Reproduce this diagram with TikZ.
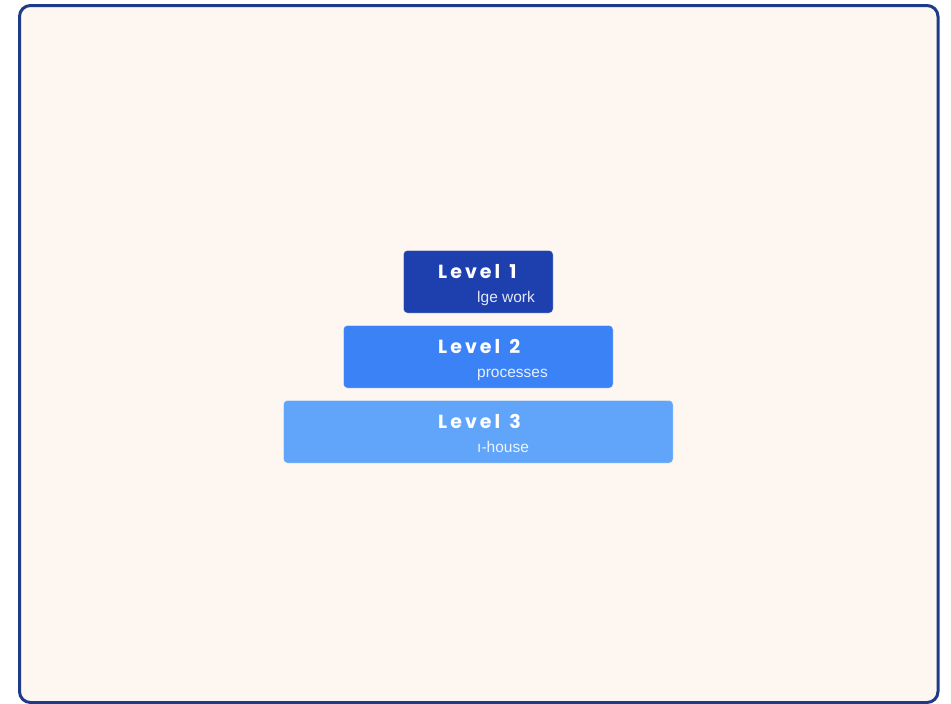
\documentclass[tikz,border=0pt]{standalone}
\usepackage{fontspec}
\setmainfont{Liberation Sans}
\newfontfamily\titlefont[LetterSpace=16]{Poppins}
\newfontfamily\subfont{Liberation Sans}
\definecolor{bgc}{HTML}{FEF6F0}
\definecolor{framec}{HTML}{1E3A8A}
\definecolor{lvA}{HTML}{1E40AF}
\definecolor{lvB}{HTML}{3B82F6}
\definecolor{lvC}{HTML}{60A5FA}
\tikzset{
  levelbox/.style={rounded corners=4pt, draw=white, draw opacity=0.25, line width=0.8pt},
  titletext/.style={text=white, font=\titlefont\fontsize{19}{22}\selectfont\bfseries, inner sep=0pt, anchor=west},
  subtext/.style={text=white, text opacity=0.88, font=\subfont\fontsize{15.5}{17}\selectfont, inner sep=0pt, anchor=base west}
}
\begin{document}
\begin{tikzpicture}[x=1pt,y=-1pt]
\useasboundingbox (0,0) rectangle (951,704);
\fill[white] (0,0) rectangle (951,704);
\draw[framec, line width=3pt, fill=bgc, rounded corners=11pt] (19.5,5.5) rectangle (938,702.5);
\path[levelbox, fill=lvA] (403.5,250.5) rectangle (553,313) node[pos=0] (b1) {};
\path[levelbox, fill=lvB] (343.5,325.5) rectangle (613,388) node[pos=0] (b2) {};
\path[levelbox, fill=lvC] (283.5,400.5) rectangle (673,463) node[pos=0] (b3) {};
\node[titletext] (t1) at (438,271.5) {Level\hspace{9pt}1};
\node[subtext] (s1) at (477,302.5) {lge work};
\node[titletext] (t2) at (438,346.5) {Level\hspace{9pt}2};
\node[subtext] (s2) at (477,377.5) {processes};
\node[titletext] (t3) at (438,421.5) {Level\hspace{9pt}3};
\node[subtext] (s3) at (477,452.5) {ı-house};
\end{tikzpicture}
\end{document}
